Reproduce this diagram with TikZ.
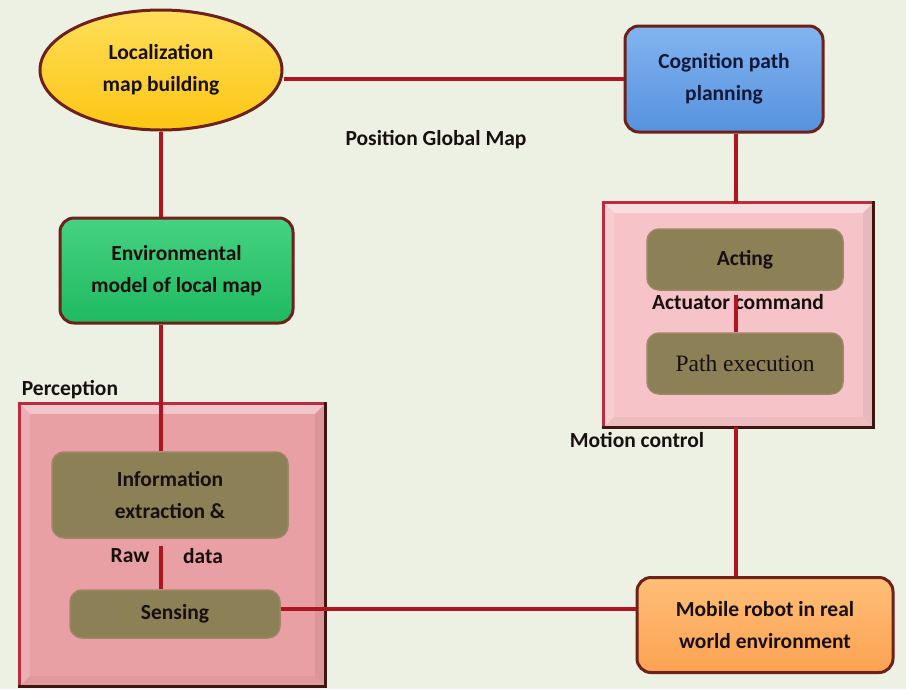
\documentclass[tikz,border=0pt]{standalone}
\usepackage{fontspec}
\setmainfont{Carlito}
\newfontfamily\serifface{Liberation Serif}
\usetikzlibrary{shapes.geometric,calc}

\definecolor{paper}{RGB}{237,241,227}
\definecolor{wire}{RGB}{176,20,32}
\definecolor{rim}{RGB}{110,32,26}
\definecolor{rimdark}{RGB}{62,22,16}
\definecolor{rimred}{RGB}{186,44,62}
\definecolor{ink}{RGB}{24,16,14}
\definecolor{navy}{RGB}{18,26,58}
\definecolor{gold}{RGB}{252,198,18}
\definecolor{goldlight}{RGB}{255,222,90}
\definecolor{sky}{RGB}{86,146,222}
\definecolor{skylight}{RGB}{130,180,240}
\definecolor{leaf}{RGB}{30,186,96}
\definecolor{leaflight}{RGB}{70,210,130}
\definecolor{peach}{RGB}{252,162,82}
\definecolor{peachlight}{RGB}{255,190,120}
\definecolor{rose}{RGB}{232,160,164}
\definecolor{blush}{RGB}{246,196,200}
\definecolor{olive}{RGB}{140,128,86}

% bevelled frame around a rectangular node: name, face colour
\newcommand\bevelframe[2]{%
  \fill[#2!60!white] (#1.north west) -- (#1.north east) -- ($(#1.north east)+(-10,10)$) -- ($(#1.north west)+(10,10)$) -- cycle;
  \fill[#2!85!white] (#1.north west) -- ($(#1.north west)+(10,10)$) -- ($(#1.south west)+(10,-10)$) -- (#1.south west) -- cycle;
  \fill[#2!94!black] (#1.north east) -- ($(#1.north east)+(-10,10)$) -- ($(#1.south east)+(-10,-10)$) -- (#1.south east) -- cycle;
  \fill[#2!96!black] (#1.south west) -- ($(#1.south west)+(10,-10)$) -- ($(#1.south east)+(-10,-10)$) -- (#1.south east) -- cycle;
  \draw[rimred, line width=3pt, line cap=rect] (#1.south west) -- (#1.north west) -- (#1.north east);
  \draw[rimdark, line width=3pt, line cap=rect] (#1.north east) -- (#1.south east) -- (#1.south west);
}

\tikzset{
  x=1pt, y=-1pt,
  every node/.style={inner sep=0pt, text=ink},
  label/.style={font=\fontsize{21.5}{26}\selectfont\bfseries},
  boxtext/.style={align=center, font=\fontsize{21.5}{32}\selectfont\bfseries},
  roundbox/.style={boxtext, rectangle, rounded corners=14pt, draw=rim, line width=3pt},
  innerbox/.style={boxtext, rectangle, rounded corners=12pt, fill=olive, draw=olive!80!rose, line width=1.5pt},
  groupbox/.style={rectangle},
  wireline/.style={draw=wire, line width=3.4pt},
}

\begin{document}
\begin{tikzpicture}
\useasboundingbox (0,0) rectangle (906,689);
\fill[paper] (0,0) rectangle (906,689);

% group frames
\node[groupbox, fill=rose, minimum width=305pt, minimum height=282pt] (perc) at (172.5,545) {};
\bevelframe{perc}{rose}
\node[groupbox, fill=blush, minimum width=269pt, minimum height=224pt] (mot) at (738.5,315) {};
\bevelframe{mot}{blush}

% spine positions
\coordinate (rightspine) at (736,0);
\coordinate (leftspine) at (161,0);

% top-level blocks
\node[ellipse, boxtext, draw=rim, line width=3pt, top color=goldlight, bottom color=gold,
      minimum width=242pt, minimum height=120pt] (loc) at (161,70)
      {Localization\\map building};
\node[roundbox, top color=skylight, bottom color=sky, text=navy,
      minimum width=198pt, minimum height=106pt] (cog) at (724,79)
      {Cognition path\\planning};
\node[roundbox, top color=leaflight, bottom color=leaf,
      minimum width=233pt, minimum height=105pt] (env) at (176.5,270.5)
      {Environmental\\model of local map};
\node[roundbox, top color=peachlight, bottom color=peach,
      minimum width=256pt, minimum height=95pt] (mob) at (765,625)
      {Mobile robot in real\\world environment};

% inner blocks
\node[innerbox, minimum width=236pt, minimum height=86pt] (info) at (170,495)
      {Information\\extraction \&};
\node[innerbox, minimum width=210pt, minimum height=48pt] (sen) at (175,614)
      {Sensing};
\node[innerbox, minimum width=196pt, minimum height=61pt] (act) at (745,259.5)
      {Acting};
\node[innerbox, minimum width=196pt, minimum height=61pt, font=\fontsize{23.5}{28}\selectfont\serifface] (pex) at (745,363.5)
      {Path execution};

% labels
\node[label] (posmap) at (436,140) {Position Global Map};
\node[label] (perclbl) at (70,390) {Perception};
\node[label] (motlbl) at (637,440) {Motion control};
\node[label] (raw) at (130,556) {Raw};
\node[label] (data) at (203,556) {data};
\node[label] (actcmd) at (738,302) {Actuator command};

% connectors
\draw[wireline] (cog.west) -- (cog.west -| loc.east);
\draw[wireline] (loc.south) -- (loc.south |- env.north);
\draw[wireline] (env.south -| leftspine) -- (info.north -| leftspine);
\draw[wireline] ([yshift=-7pt]info.south -| leftspine) -- (sen.north -| leftspine);
\draw[wireline] ([yshift=5pt]sen.east) -- ([yshift=5pt]sen.east -| mob.west);
\draw[wireline] (cog.south -| rightspine) -- (mot.north -| rightspine);
\draw[wireline] ([yshift=-4pt]act.south -| rightspine) -- (pex.north -| rightspine);
\draw[wireline] (mot.south -| rightspine) -- (mob.north -| rightspine);
\end{tikzpicture}
\end{document}
